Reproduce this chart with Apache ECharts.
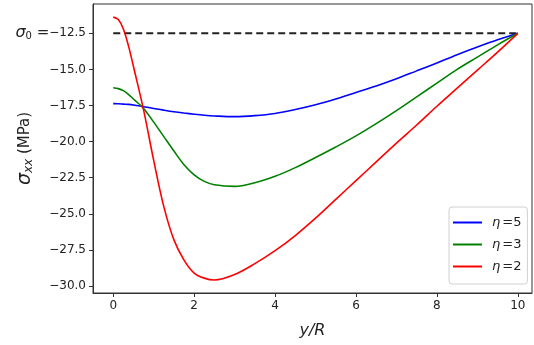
<!DOCTYPE html>
<html>
<head>
<meta charset="utf-8">
<script src="https://cdn.jsdelivr.net/npm/echarts@6/dist/echarts.min.js"></script>
<style>
html,body{margin:0;padding:0;background:#fff;}
#chart{width:534px;height:345px;}
</style>
</head>
<body>
<div id="chart"></div>
<script>
// Data
const xValues = [0, 0.125, 0.25, 0.375, 0.5, 0.75, 1, 1.25, 1.5, 1.75, 2, 2.25, 2.5, 3, 3.5, 4, 4.5, 5, 5.5, 6, 6.5, 7, 7.5, 8, 8.5, 9, 9.5, 10];
const eta5 = [-17.37, -17.38, -17.4, -17.42, -17.46, -17.58, -17.7, -17.82, -17.93, -18.02, -18.1, -18.17, -18.22, -18.27, -18.2, -18.05, -17.78, -17.45, -17.05, -16.6, -16.15, -15.65, -15.1, -14.55, -13.98, -13.45, -12.95, -12.5];
const eta3 = [-16.27, -16.33, -16.47, -16.72, -17.05, -17.7, -18.65, -19.65, -20.65, -21.6, -22.3, -22.75, -22.98, -23.1, -22.85, -22.4, -21.8, -21.1, -20.37, -19.6, -18.75, -17.85, -16.9, -15.95, -15.0, -14.15, -13.3, -12.5];
const eta2 = [-11.38, -11.55, -12.2, -13.35, -14.8, -17.8, -21.3, -24.5, -26.8, -28.2, -29.1, -29.45, -29.58, -29.2, -28.45, -27.55, -26.5, -25.3, -24.0, -22.7, -21.4, -20.1, -18.85, -17.55, -16.3, -15.05, -13.8, -12.5];
const sigma0 = -12.5;
const sigma0X = [0, 10];
const seriesNames = ['η=5', 'η=3', 'η=2'];
const etaLabels = ['5', '3', '2'];
const xTicks = [0, 2, 4, 6, 8, 10];
const yTicks = [-30, -27.5, -25, -22.5, -20, -17.5, -15, -12.5];

const pairs = (xs, ys) => xs.map((x, i) => [x, ys[i]]);
const font = 'DejaVu Sans';

const chart = echarts.init(document.getElementById('chart'), null, {renderer: 'canvas'});
chart.setOption({
  animation: false,
  backgroundColor: '#fff',
  grid: {left: 93, right: 2, top: 4, bottom: 52, containLabel: false, outerBoundsMode: 'none',
         show: true, borderColor: '#333', borderWidth: 1, backgroundColor: 'transparent'},
  xAxis: {
    type: 'value', min: -0.5, max: 10.35,
    name: 'y/R', nameLocation: 'middle', nameGap: 30, nameMoveOverlap: false,
    nameTextStyle: {fontFamily: font, fontStyle: 'italic', fontSize: 16, color: '#222'},
    axisLine: {show: true, onZero: false, lineStyle: {color: '#333', width: 1}},
    axisTick: {show: true, inside: false, length: 4, customValues: xTicks, lineStyle: {color: '#333'}},
    axisLabel: {customValues: xTicks, margin: 7, fontFamily: font, fontSize: 12, color: '#222', formatter: v => String(v)},
    splitLine: {show: false}
  },
  yAxis: {
    type: 'value', min: -30.48, max: -10.47,
    name: '{s|σ}{sub|xx}{r| (MPa)}', nameLocation: 'middle', nameGap: 58, nameMoveOverlap: false,
    nameTextStyle: {
      fontFamily: font, fontSize: 15, color: '#222',
      rich: {
        s: {fontFamily: font, fontStyle: 'italic', fontSize: 19, color: '#222', lineHeight: 20},
        sub: {fontFamily: font, fontStyle: 'italic', fontSize: 12, color: '#222', verticalAlign: 'bottom', lineHeight: 13},
        r: {fontFamily: font, fontSize: 15, color: '#222', lineHeight: 20}
      }
    },
    axisLine: {show: true, onZero: false, lineStyle: {color: '#333', width: 1}},
    axisTick: {show: true, inside: false, length: 4, customValues: yTicks, lineStyle: {color: '#333'}},
    axisLabel: {
      customValues: yTicks, margin: 7, fontFamily: font, fontSize: 12, color: '#222',
      formatter: v => {
        const t = v.toFixed(1).replace('-', '\u2212');
        if (Math.abs(v - sigma0) < 1e-9) return '{s|σ}{sub|0}{eq| =}' + t;
        return t;
      },
      rich: {
        s: {fontFamily: font, fontStyle: 'italic', fontSize: 16, color: '#222', lineHeight: 17},
        sub: {fontFamily: font, fontSize: 10, color: '#222', verticalAlign: 'bottom', lineHeight: 10},
        eq: {fontFamily: font, fontSize: 15, color: '#222', lineHeight: 17}
      }
    },
    splitLine: {show: false}
  },
  legend: {
    orient: 'vertical', left: 449, top: 207,
    data: seriesNames.map(n => ({name: n, icon: 'rect'})),
    itemWidth: 29, itemHeight: 2, itemGap: 9,
    padding: [9, 6, 11, 4],
    borderColor: '#d0d0d0', borderWidth: 1, borderRadius: 3, backgroundColor: '#fff',
    formatter: name => '{e|η}{r|=' + etaLabels[seriesNames.indexOf(name)] + '}',
    textStyle: {
      fontFamily: font, fontSize: 13, color: '#222', padding: [0, 0, 0, 5],
      rich: {
        e: {fontFamily: font, fontStyle: 'italic', fontSize: 13, color: '#222', lineHeight: 14, padding: [0, 2, 0, 0]},
        r: {fontFamily: font, fontSize: 13, color: '#222', lineHeight: 14}
      }
    }
  },
  series: [
    {
      name: 'σ0', type: 'line', data: pairs(sigma0X, sigma0X.map(() => sigma0)),
      symbol: 'none', silent: true,
      lineStyle: {color: '#222', width: 2, type: [7, 4]}, z: 1
    },
    {
      name: seriesNames[0], type: 'line', data: pairs(xValues, eta5), symbol: 'none',
      smooth: 0.35, color: '#0000ff', lineStyle: {color: '#0000ff', width: 1.6}, z: 2
    },
    {
      name: seriesNames[1], type: 'line', data: pairs(xValues, eta3), symbol: 'none',
      smooth: 0.35, color: '#008000', lineStyle: {color: '#008000', width: 1.6}, z: 3
    },
    {
      name: seriesNames[2], type: 'line', data: pairs(xValues, eta2), symbol: 'none',
      smooth: 0.35, color: '#ff0000', lineStyle: {color: '#ff0000', width: 1.6}, z: 4
    }
  ]
});
</script>
</body>
</html>
